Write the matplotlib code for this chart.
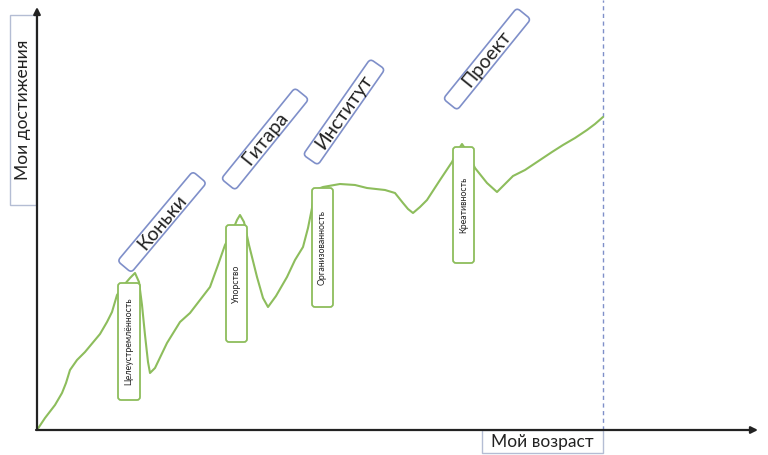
import matplotlib
matplotlib.use("Agg")
import matplotlib.pyplot as plt
from matplotlib.patches import FancyBboxPatch
from matplotlib.transforms import Affine2D

plt.rcParams['font.family'] = ['Lato', 'DejaVu Sans']

# ---- data (age from origin, achievement height above axis) ----
age = [0, 8, 18, 25, 29, 33, 40, 48, 58, 63, 70, 75, 80, 87, 93, 98, 102, 105, 108,
       111, 113, 118, 130, 143, 153, 163, 173, 181, 188, 195, 200, 203, 207, 212, 220,
       226, 231, 239, 250, 258, 266, 271, 275, 278, 286, 303, 318, 330, 348, 358, 366,
       371, 376, 383, 390, 403, 415, 421, 425, 429, 438, 450, 460, 468, 476, 488, 503,
       515, 526, 538, 550, 558, 566]
achievement = [0, 12, 25, 37, 47, 60, 70, 78, 90, 96, 108, 118, 135, 145, 152, 157, 148,
               125, 95, 68, 57, 62, 87, 108, 117, 130, 143, 165, 185, 198, 210, 215, 208,
               185, 153, 132, 123, 134, 153, 170, 183, 202, 222, 240, 243, 246, 245, 242,
               240, 237, 227, 221, 217, 223, 230, 250, 268, 280, 286, 280, 262, 247, 238,
               246, 254, 260, 270, 278, 285, 292, 300, 306, 313]

events = ['Коньки', 'Гитара', 'Институт', 'Проект']
qualities = ['Целеустремлённость', 'Упорство', 'Организованность', 'Креативность']
xlabel = 'Мой возраст'
ylabel = 'Мои достижения'
now_age = 566

# ---- layout (pixel-based geometry) ----
event_boxes = [  # centre x, centre y, angle
    (125, 208, 50),
    (228, 291, 51),
    (307, 318, 55),
    (450, 371, 51),
]
quality_boxes = [  # left, bottom, width, height
    (81, 30, 22, 117),
    (189, 88, 21, 117),
    (275, 123, 21, 119),
    (416, 167, 21, 116),
]
GREEN = '#8dbd5c'
BLUE = '#7f8fc9'

fig = plt.figure(figsize=(7.68, 4.55), dpi=100)
ax = fig.add_axes([0, 0, 1, 1])
ax.set_xlim(-37, 731)
ax.set_ylim(-25, 430)
ax.axis('off')

# curve
ax.plot(age, achievement, color=GREEN, lw=1.5, solid_capstyle='round',
        solid_joinstyle='round', zorder=2)

# now line
ax.plot([now_age, now_age], [0, 430], color=BLUE, lw=1.0, ls=(0, (3, 2.5)), zorder=1)

# axes arrows
ax.annotate('', xy=(0, 423), xytext=(0, 0),
            arrowprops=dict(arrowstyle='-|>', lw=1.6, color='#222222',
                            mutation_scale=10, shrinkA=0, shrinkB=0), zorder=3)
ax.annotate('', xy=(721, 0), xytext=(-1, 0),
            arrowprops=dict(arrowstyle='-|>', lw=1.6, color='#222222',
                            mutation_scale=10, shrinkA=0, shrinkB=0), zorder=3)

# axis label boxes
ax.add_patch(plt.Rectangle((-27, 225), 26, 190, fc='white', ec='#b4bdd4', lw=1.0, zorder=2))
ax.text(-14, 320, ylabel, rotation=90, ha='center', va='center', fontsize=12.5,
        color='#222222', zorder=4)
ax.add_patch(plt.Rectangle((445, -23), 121, 23, fc='white', ec='#b4bdd4', lw=1.0, zorder=2))
ax.text(505.5, -11.5, xlabel, ha='center', va='center', fontsize=12.5,
        color='#222222', zorder=4)

# quality boxes
for (l, b, w, h), q in zip(quality_boxes, qualities):
    ax.add_patch(FancyBboxPatch((l, b), w, h,
                                boxstyle='round,pad=0,rounding_size=3',
                                fc='white', ec=GREEN, lw=1.3, zorder=3))
    ax.text(l + w / 2, b + h / 2, q, rotation=90, ha='center', va='center',
            fontsize=6.3, color='#222222', zorder=4)

# event boxes
L, W = 117, 18
for (cx, cy, ang), e in zip(event_boxes, events):
    tr = Affine2D().rotate_deg(ang).translate(cx, cy) + ax.transData
    ax.add_patch(FancyBboxPatch((-L / 2, -W / 2), L, W,
                                boxstyle='round,pad=0,rounding_size=4',
                                fc='white', ec=BLUE, lw=1.2, transform=tr, zorder=3))
    ax.text(cx, cy, e, rotation=ang, rotation_mode='anchor', ha='center', va='center',
            fontsize=14, color='#222222', zorder=4)

fig.savefig('out.png', dpi=100)
